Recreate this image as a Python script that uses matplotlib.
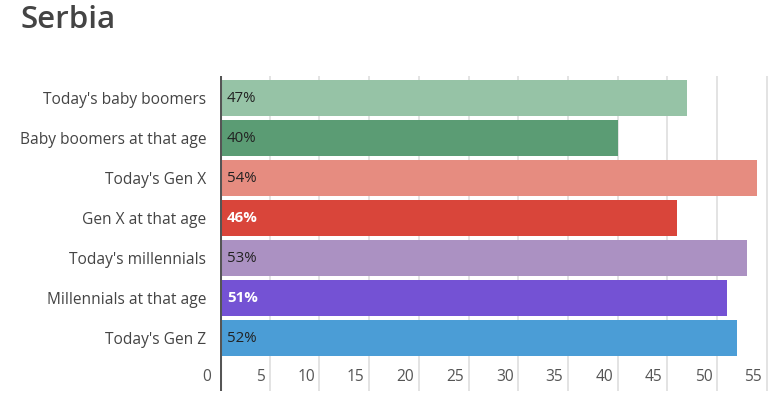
import matplotlib
matplotlib.use("Agg")
import matplotlib.pyplot as plt

categories = ["Today's baby boomers", "Baby boomers at that age", "Today's Gen X",
              "Gen X at that age", "Today's millennials", "Millennials at that age",
              "Today's Gen Z"]
values = [47, 40, 54, 46, 53, 51, 52]
value_labels = ["47%", "40%", "54%", "46%", "53%", "51%", "52%"]
colors = ["#96c3a6", "#5b9c74", "#e68c80", "#d9453a", "#ab91c2", "#7452d4", "#4b9dd6"]
label_white = [False, False, False, True, False, True, False]
xticks = [0, 5, 10, 15, 20, 25, 30, 35, 40, 45, 50, 55]
title = "Serbia"

FONT = "Open Sans"
plt.rcParams['font.family'] = [FONT, 'DejaVu Sans']

fig = plt.figure(figsize=(7.82, 4.09), dpi=100)
W, H = 782, 409
x0, x1 = 220, 774.7
y_top, y_bot = 76, 391
ax = fig.add_axes([x0 / W, 1 - y_bot / H, (x1 - x0) / W, (y_bot - y_top) / H])

ypos = list(range(len(categories)))
ax.barh(ypos, values, height=0.9, color=colors, zorder=2)
ax.set_xlim(0, 55.8)
ax.set_ylim(7.32, -0.55)

for t in xticks[1:]:
    ax.axvline(t, color="#e0e0e0", lw=1.3, zorder=1)
ax.axvline(0, color="#555555", lw=2.2, zorder=3)

for s in ax.spines.values():
    s.set_visible(False)
ax.set_xticks([])
ax.set_yticks(ypos)
ax.set_yticklabels(categories, fontsize=11.2, color="#444444")
ax.tick_params(axis='y', length=0, pad=10)

for t in xticks:
    ax.text(t - 0.45 if t else -0.9, 6.98, str(t), ha='right', va='center',
            fontsize=11.2, color="#555555")

for i, (v, lab, w) in enumerate(zip(values, value_labels, label_white)):
    ax.text(0.7, i, lab, ha='left', va='center', fontsize=10.8,
            color="white" if w else "#222222", fontweight='bold' if w else 'normal',
            zorder=4)

fig.text(20 / W, 1 - 20 / H, title, fontsize=22.5, color="#444444", fontweight='semibold',
         ha='left', va='center')

fig.savefig("out.png", dpi=100, facecolor="white")
